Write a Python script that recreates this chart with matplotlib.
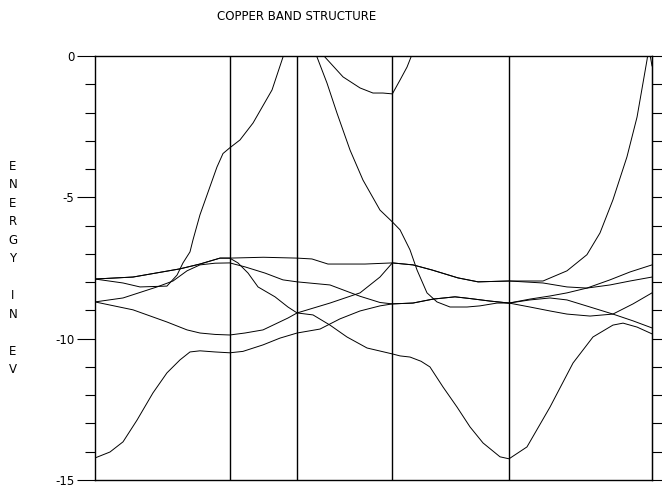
import numpy as np
import matplotlib
matplotlib.use("Agg")
import matplotlib.pyplot as plt

# symmetry points along the path  G - X - W - L - G - K
sym_k = [0.0, 1.0, 1.5, 2.207, 3.073, 4.134]

# bands: (k, E in eV)
band1 = [(0, -14.22), (0.111, -14.01), (0.208, -13.65), (0.312, -12.88), (0.430, -11.92),
         (0.534, -11.21), (0.631, -10.75), (0.705, -10.47), (0.779, -10.43), (0.891, -10.47),
         (1.0, -10.5), (1.098, -10.45), (1.247, -10.22), (1.373, -9.98), (1.5, -9.80),
         (1.670, -9.66), (1.818, -9.30), (1.967, -9.02), (2.115, -8.84), (2.207, -8.77),
         (2.360, -8.74), (2.509, -8.60), (2.672, -8.52), (2.783, -8.58), (2.932, -8.67),
         (3.073, -8.74), (3.228, -8.63), (3.377, -8.56), (3.503, -8.63), (3.674, -8.88),
         (3.844, -9.13), (3.993, -9.37), (4.134, -9.62)]
band2 = [(0, -8.70), (0.282, -8.98), (0.534, -9.41), (0.683, -9.69), (0.779, -9.80),
         (0.891, -9.85), (1.0, -9.87), (1.113, -9.80), (1.247, -9.69), (1.432, -9.27),
         (1.5, -9.09), (1.618, -9.16), (1.744, -9.52), (1.870, -9.94), (2.019, -10.33),
         (2.207, -10.54), (2.264, -10.61), (2.338, -10.65), (2.420, -10.80), (2.486, -11.0),
         (2.583, -11.71), (2.687, -12.42), (2.783, -13.12), (2.880, -13.69), (3.006, -14.18),
         (3.073, -14.25), (3.206, -13.83), (3.377, -12.42), (3.548, -10.86), (3.696, -9.94),
         (3.844, -9.52), (3.919, -9.45), (4.023, -9.59), (4.134, -9.83)]
band3 = [(0, -8.70), (0.208, -8.56), (0.460, -8.17), (0.579, -7.96), (0.683, -7.60),
         (0.779, -7.39), (0.891, -7.33), (1.0, -7.32), (1.113, -7.46), (1.262, -7.68),
         (1.395, -7.92), (1.5, -7.99), (1.744, -8.10), (1.967, -8.50), (2.115, -8.72),
         (2.207, -8.77), (2.360, -8.74), (2.509, -8.60), (2.672, -8.52), (2.783, -8.58),
         (2.932, -8.67), (3.073, -8.74), (3.228, -8.88), (3.377, -9.02), (3.503, -9.13),
         (3.674, -9.20), (3.844, -9.13), (3.993, -8.77), (4.134, -8.38)]
band4 = [(0, -7.89), (0.282, -7.82), (0.631, -7.53), (0.779, -7.36), (0.928, -7.15),
         (1.0, -7.15), (1.25, -7.12), (1.5, -7.15), (1.610, -7.18), (1.729, -7.36),
         (2.004, -7.36), (2.207, -7.32), (2.360, -7.39), (2.501, -7.57), (2.694, -7.85),
         (2.843, -7.99), (3.073, -7.96), (3.325, -8.03), (3.503, -8.17), (3.651, -8.21),
         (3.822, -8.10), (3.971, -7.96), (4.134, -7.82)]
band5 = [(0, -7.89), (0.282, -7.82), (0.631, -7.53), (0.779, -7.36), (0.928, -7.15),
         (1.0, -7.15), (1.061, -7.32), (1.136, -7.68), (1.210, -8.17), (1.336, -8.52),
         (1.432, -8.88), (1.5, -9.09), (1.744, -8.74), (1.967, -8.38), (2.115, -7.82),
         (2.207, -7.32), (2.360, -7.39), (2.501, -7.57), (2.694, -7.85), (2.843, -7.99),
         (3.073, -7.96), (3.325, -7.96), (3.503, -7.60), (3.651, -7.03), (3.748, -6.26),
         (3.844, -5.09), (3.948, -3.57), (4.023, -2.16), (4.067, -0.96), (4.097, -0.14),
         (4.110, 0.3), (4.134, -0.35)]
band6 = [(0, -7.89), (0.208, -8.03), (0.334, -8.17), (0.534, -8.14), (0.609, -7.75),
         (0.653, -7.32), (0.705, -6.93), (0.727, -6.51), (0.779, -5.62), (0.905, -3.93),
         (0.95, -3.45), (1.0, -3.25), (1.076, -2.97), (1.173, -2.37), (1.314, -1.20),
         (1.395, -0.04), (1.45, 0.8), (1.5, 1.2), (1.55, 0.8), (1.648, -0.04),
         (1.722, -0.96), (1.796, -2.02), (1.893, -3.33), (1.989, -4.39), (2.115, -5.45),
         (2.207, -5.87), (2.264, -6.15), (2.338, -6.86), (2.390, -7.57), (2.464, -8.38),
         (2.538, -8.70), (2.635, -8.88), (2.761, -8.88), (2.857, -8.84), (2.984, -8.74),
         (3.073, -8.74), (3.228, -8.60), (3.377, -8.49), (3.503, -8.38), (3.651, -8.21),
         (3.822, -7.92), (3.971, -7.64), (4.134, -7.39)]
band7 = [(1.65, 0.4), (1.707, -0.04), (1.841, -0.74), (1.967, -1.13), (2.063, -1.31),
         (2.137, -1.31), (2.207, -1.34), (2.264, -0.85), (2.316, -0.39), (2.345, -0.04),
         (2.40, 0.5)]
bands = [band1, band2, band3, band4, band5, band6, band7]

y_ticks = [0, -5, -10, -15]
y_label = "E\nN\nE\nR\nG\nY\n\nI\nN\n\nE\nV"

fig = plt.figure(figsize=(6.62, 4.90), dpi=100)
ax = fig.add_axes([95 / 662, 1 - 480 / 490, 557 / 662, 424 / 490])

for b in bands:
    b = np.array(b)
    ax.plot(b[:, 0], b[:, 1], color="black", lw=0.7)

for k in sym_k[1:-1]:
    ax.axvline(k, color="black", lw=1.0)

ax.set_xlim(sym_k[0], sym_k[-1])
ax.set_ylim(-15, 0)
ax.set_xticks([])
ax.set_yticks(y_ticks)
ax.set_yticklabels(["0", "-5", "-10", "-15"], fontsize=8.5)
ax.set_yticks(np.arange(-15, 1, 1), minor=True)
ax.tick_params(axis="y", which="major", length=13, width=0.8, direction="out", pad=2)
ax.tick_params(axis="y", which="minor", length=7, width=0.8, direction="out")
for s in ax.spines.values():
    s.set_linewidth(1.0)

# ticks on the right edge, no labels
ax2 = ax.secondary_yaxis("right")
ax2.set_yticks(np.arange(-15, 1, 1))
ax2.set_yticklabels([])
ax2.tick_params(length=7, width=0.8, direction="out")

fig.text(297 / 662, 1 - 16 / 490, "COPPER BAND STRUCTURE", ha="center", va="center", fontsize=8.5)
fig.text(13 / 662, 1 - 268 / 490, y_label, ha="center", va="center", fontsize=8.5, linespacing=1.55)

fig.savefig("out.png", dpi=100)
